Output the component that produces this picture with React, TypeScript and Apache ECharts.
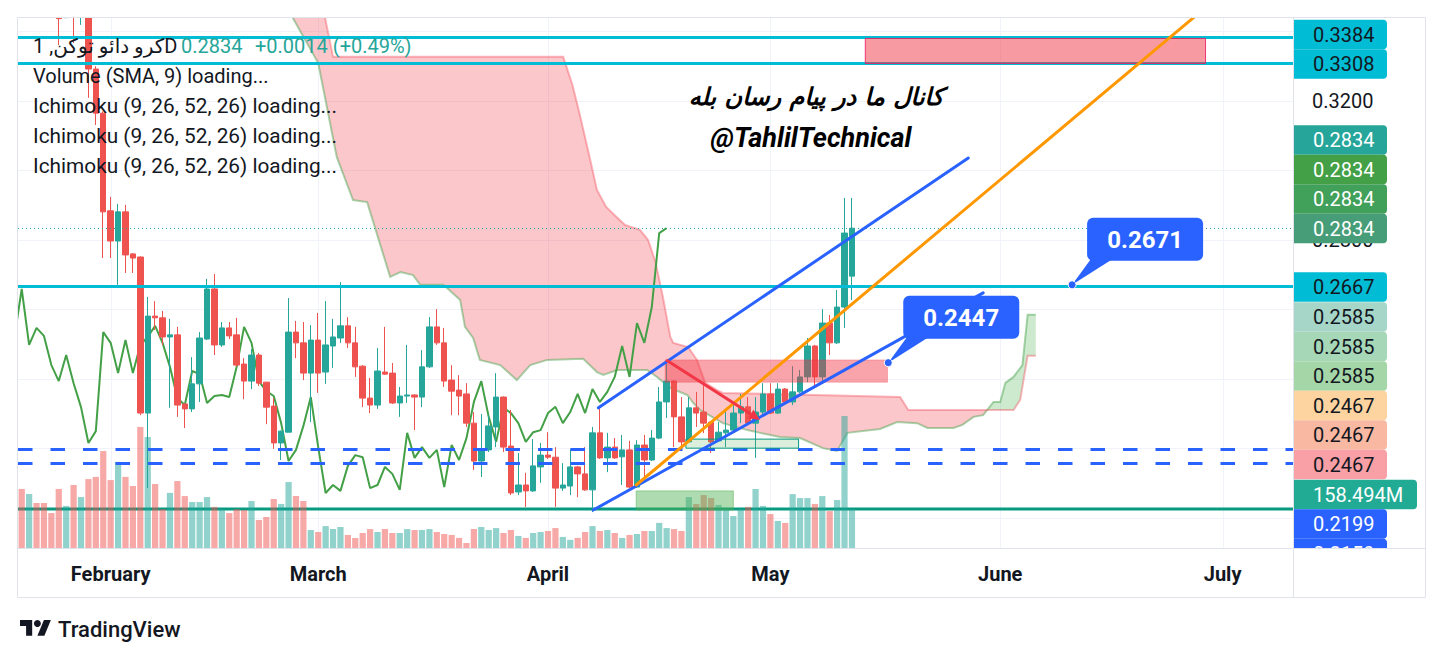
import React, { useEffect, useRef } from "react";
import * as echarts from "echarts";

// ---------- categories (daily, crypto: every day) ----------
const firstDay = Date.UTC(2025, 0, 20);
const dayCount = 172;
const categories: string[] = Array.from({ length: dayCount }, (_, k) =>
  new Date(firstDay + k * 86400000).toISOString().slice(0, 10)
);
const monthNames = ["January", "February", "March", "April", "May", "June", "July"];

// ---------- candles: [open, close, low, high] ----------
const candles: number[][] = [
  [0.372, 0.362, 0.358, 0.378], // 0
  [0.362, 0.368, 0.359, 0.371],
  [0.368, 0.358, 0.355, 0.37],
  [0.358, 0.352, 0.349, 0.361],
  [0.352, 0.347, 0.3455, 0.355],
  [0.347, 0.3437, 0.3361, 0.35],
  [0.344, 0.35, 0.3438, 0.353],
  [0.35, 0.346, 0.3367, 0.352],
  [0.346, 0.352, 0.3419, 0.355],
  [0.352, 0.3292, 0.3209, 0.354],
  [0.3292, 0.3165, 0.3131, 0.33], // 10
  [0.3165, 0.2881, 0.2748, 0.317],
  [0.2884, 0.2797, 0.2748, 0.2924],
  [0.2797, 0.2881, 0.2671, 0.2904],
  [0.2881, 0.2757, 0.2705, 0.2901],
  [0.276, 0.2748, 0.2705, 0.2762],
  [0.2751, 0.2302, 0.2296, 0.2753],
  [0.2302, 0.2581, 0.2086, 0.2636],
  [0.2581, 0.2576, 0.2541, 0.2624],
  [0.2576, 0.2521, 0.2498, 0.2596],
  [0.2521, 0.2527, 0.2317, 0.2573], // 20
  [0.2527, 0.2325, 0.2291, 0.255],
  [0.2328, 0.2314, 0.2259, 0.233],
  [0.2314, 0.2386, 0.2305, 0.2463],
  [0.2386, 0.2518, 0.2334, 0.2535],
  [0.2515, 0.2659, 0.2512, 0.2688],
  [0.2659, 0.2498, 0.2469, 0.2702],
  [0.2498, 0.2547, 0.2492, 0.2564],
  [0.2547, 0.2524, 0.2515, 0.2564],
  [0.2527, 0.244, 0.2436, 0.2576],
  [0.2443, 0.2394, 0.2342, 0.246], // 30
  [0.2394, 0.2469, 0.2371, 0.2486],
  [0.2469, 0.2388, 0.238, 0.2475],
  [0.2391, 0.2319, 0.227, 0.2391],
  [0.2322, 0.2216, 0.2199, 0.2345],
  [0.2216, 0.225, 0.2167, 0.2252],
  [0.2247, 0.2535, 0.2247, 0.2633],
  [0.2535, 0.2504, 0.246, 0.2567],
  [0.2504, 0.2417, 0.2397, 0.2564],
  [0.2417, 0.2512, 0.2276, 0.2555],
  [0.2512, 0.2417, 0.236, 0.259], // 40
  [0.242, 0.2498, 0.2386, 0.2624],
  [0.2495, 0.2521, 0.2432, 0.2573],
  [0.2518, 0.2553, 0.2504, 0.2679],
  [0.2553, 0.2504, 0.2489, 0.2578],
  [0.2504, 0.2435, 0.2406, 0.255],
  [0.2437, 0.2345, 0.2319, 0.244],
  [0.2345, 0.2325, 0.2302, 0.2403],
  [0.2325, 0.2423, 0.2314, 0.2489],
  [0.242, 0.2414, 0.2412, 0.255],
  [0.2417, 0.2331, 0.2328, 0.2446], // 50
  [0.2331, 0.2351, 0.2291, 0.2377],
  [0.2351, 0.2354, 0.2331, 0.2498],
  [0.2354, 0.2348, 0.2253, 0.2356],
  [0.2348, 0.2435, 0.2319, 0.2483],
  [0.2435, 0.255, 0.2432, 0.2578],
  [0.255, 0.2504, 0.2498, 0.2601],
  [0.2504, 0.2394, 0.2377, 0.2547],
  [0.2397, 0.2365, 0.2296, 0.244],
  [0.2368, 0.2351, 0.2296, 0.2411],
  [0.2357, 0.2273, 0.2262, 0.2388], // 60
  [0.2273, 0.2164, 0.2138, 0.2305],
  [0.2164, 0.2196, 0.2118, 0.2299],
  [0.2196, 0.2265, 0.219, 0.2296],
  [0.2262, 0.2348, 0.2204, 0.2417],
  [0.2348, 0.2204, 0.219, 0.235],
  [0.2207, 0.2072, 0.2066, 0.2311],
  [0.2075, 0.2095, 0.2066, 0.2187],
  [0.2095, 0.2078, 0.2032, 0.213],
  [0.2078, 0.215, 0.2075, 0.2227],
  [0.2147, 0.2181, 0.2101, 0.2216], // 70
  [0.2181, 0.2175, 0.217, 0.2247],
  [0.2175, 0.2086, 0.2032, 0.2204],
  [0.2086, 0.2095, 0.2078, 0.2158],
  [0.2092, 0.2147, 0.2066, 0.2199],
  [0.2147, 0.2127, 0.206, 0.215],
  [0.2127, 0.2081, 0.2078, 0.2204],
  [0.2081, 0.2245, 0.2017, 0.2262],
  [0.2245, 0.2173, 0.217, 0.2317],
  [0.2173, 0.2204, 0.2132, 0.2245],
  [0.2204, 0.2173, 0.217, 0.223], // 80
  [0.2176, 0.2196, 0.2095, 0.2239],
  [0.2196, 0.2089, 0.2086, 0.2222],
  [0.2089, 0.221, 0.2086, 0.2224],
  [0.221, 0.2167, 0.2104, 0.2239],
  [0.2167, 0.223, 0.2164, 0.2253],
  [0.223, 0.2334, 0.2227, 0.2377],
  [0.2334, 0.2394, 0.2288, 0.2455],
  [0.2394, 0.2291, 0.2204, 0.2397],
  [0.2291, 0.2219, 0.2201, 0.2348],
  [0.2219, 0.2317, 0.2219, 0.2348], // 90
  [0.2317, 0.2302, 0.2262, 0.2363],
  [0.2305, 0.2273, 0.2244, 0.2383],
  [0.2276, 0.2219, 0.2187, 0.2278],
  [0.2222, 0.2247, 0.2219, 0.2276],
  [0.2245, 0.2253, 0.2204, 0.2311],
  [0.2253, 0.2302, 0.225, 0.2325],
  [0.2302, 0.232, 0.2273, 0.2357],
  [0.232, 0.2273, 0.2273, 0.2348],
  [0.2273, 0.2305, 0.2173, 0.2348],
  [0.2305, 0.2357, 0.2291, 0.2388], // 100
  [0.2357, 0.2302, 0.2299, 0.2388],
  [0.2302, 0.2371, 0.2299, 0.2388],
  [0.2371, 0.2334, 0.2331, 0.2374],
  [0.2334, 0.2363, 0.2325, 0.2437],
  [0.2363, 0.2406, 0.236, 0.2426],
  [0.2406, 0.2495, 0.2391, 0.2518],
  [0.2495, 0.2406, 0.2377, 0.2498],
  [0.2406, 0.2561, 0.2388, 0.2601],
  [0.2561, 0.2504, 0.2469, 0.2584],
  [0.2504, 0.2607, 0.2501, 0.2656], // 110
  [0.2607, 0.282, 0.2547, 0.2921],
  [0.2696, 0.2834, 0.2627, 0.2921],
];

// ---------- volume (millions) ----------
const volumes: number[] = [
  240, 219, 183, 183, 142, 240, 171, 256, 207, 280,
  289, 394, 276, 350, 289, 252, 492, 451, 260, 158,
  224, 272, 211, 187, 187, 207, 167, 158, 142, 158,
  154, 191, 114, 126, 199, 179, 268, 211, 191, 73,
  65, 89, 77, 85, 53, 41, 61, 77, 65, 77,
  61, 61, 77, 73, 73, 77, 65, 57, 53, 41,
  20, 77, 85, 73, 81, 61, 73, 49, 41, 61,
  65, 69, 81, 45, 33, 41, 65, 89, 69, 73,
  61, 41, 53, 57, 69, 69, 102, 81, 77, 69,
  207, 179, 215, 203, 175, 158, 130, 158, 167, 240,
  171, 138, 110, 102, 219, 203, 203, 179, 211, 150,
  195, 536, 158.494,
];
const lastVolume = 158.494;
const lastPrice = 0.2834;
const priceChange = "+0.0014 (+0.49%)";

// ---------- horizontal levels ----------
const levelLines = [0.3384, 0.3308, 0.2667];
const dashedLevels = [0.2199, 0.2159];
// price-scale tick labels that stay visible (the rest sit under the tags)
const visibleTicks = ["0.3200", "0.2800"];

// ---------- Ichimoku cloud: [barIndex, price] ----------
const senkouA: number[][] = [
  [36.5, 0.3442], [40.0, 0.3309], [42.5, 0.3039], [44.7, 0.2915], [46.6, 0.2909],
  [49.7, 0.2694], [51.1, 0.2708], [52.8, 0.2699], [53.75, 0.2671], [56.9, 0.2671],
  [59.15, 0.2627], [59.8, 0.255], [60.9, 0.2518], [61.8, 0.2455], [64.55, 0.244],
  [66.8, 0.2397], [68.6, 0.244], [70.9, 0.2455], [75.75, 0.2458], [77.6, 0.242],
  [78.45, 0.2412], [80.35, 0.2426], [84.4, 0.2426], [85.7, 0.2406], [87.5, 0.2374],
  [89.8, 0.2354], [90.6, 0.2331], [91.5, 0.2311], [94.6, 0.2273], [97.9, 0.2253],
  [99.6, 0.2245], [102.3, 0.2233], [105.0, 0.223], [108.1, 0.2201], [110.0, 0.2193],
  [111.4, 0.2245], [115.8, 0.2256], [118.1, 0.2276], [120.8, 0.2273], [122.2, 0.2259],
  [125.7, 0.2259], [126.9, 0.2268], [128.4, 0.2291], [129.7, 0.2296], [131.1, 0.2334],
  [132.0, 0.2334], [132.7, 0.2389], [133.8, 0.2406], [135.0, 0.244], [135.7, 0.2585],
  [136.8, 0.2585],
];
const senkouB: number[][] = [
  [36.5, 0.3442], [40.9, 0.3442], [42.0, 0.3327], [73.05, 0.3327], [74.3, 0.3246],
  [75.3, 0.316], [76.7, 0.303], [77.6, 0.2944], [78.85, 0.2895], [80.1, 0.2869],
  [81.4, 0.2843], [83.4, 0.2829], [84.5, 0.28], [85.5, 0.2737], [86.5, 0.2636],
  [87.5, 0.2521], [87.9, 0.2504], [89.9, 0.2492], [91.1, 0.2455], [92.2, 0.2389],
  [93.8, 0.2368], [94.6, 0.236], [118.5, 0.2348], [119.6, 0.2311], [133.8, 0.2311],
  [134.7, 0.234], [135.7, 0.2467], [136.8, 0.2467],
];
const cloudCross = [130.25, 0.2311];

// ---------- drawings ----------
const trendLines: number[][] = [
  [77.8, 0.2317, 127.7, 0.3036],
  [77.1, 0.2023, 129.7, 0.2648],
  [82.9, 0.2095, 158.2, 0.3442],
];
const trendColors = ["#2962ff", "#2962ff", "#ff9800"];
const arrowLine = [86.95, 0.2455, 99.6, 0.2282];
const zones: number[][] = [
  [113.8, 0.338, 159.7, 0.3308],
  [86.8, 0.2455, 116.8, 0.2391],
  [82.9, 0.2078, 96.0, 0.2023],
  [89.6, 0.2227, 104.8, 0.2201],
];
const zoneFill = ["rgba(242,54,69,0.5)", "rgba(242,54,69,0.45)", "rgba(76,175,80,0.45)", "rgba(76,175,80,0.2)"];
const zoneStroke = ["rgba(233,30,99,0.85)", "rgba(242,54,69,0.3)", "rgba(76,175,80,0.5)", "#089981"];
const callouts: number[][] = [
  [141.7, 0.2671],
  [116.9, 0.2447],
];

// ---------- price-scale tags ----------
const priceTags = [
  "0.3384", "0.3308", "0.2834", "0.2834", "0.2834", "0.2834", "0.2667",
  "0.2585", "0.2585", "0.2585", "0.2467", "0.2467", "0.2467", "158.494M", "0.2199", "0.2159",
];
const tagBg = [
  "#00bcd4", "#00bcd4", "#26a69a", "#43a047", "#41a05a", "#469d78", "#00bcd4",
  "#a5d6c8", "#a6d8b8", "#a5d6a7", "#fdd4a0", "#f9b8a1", "#f8a0a5", "#22ab94", "#2962ff", "#2962ff",
];
const tagFg = [
  "#131722", "#131722", "#ffffff", "#ffffff", "#ffffff", "#ffffff", "#131722",
  "#131722", "#131722", "#131722", "#131722", "#131722", "#131722", "#ffffff", "#ffffff", "#ffffff",
];
const tagY = [34.5, 64, 140, 169.5, 199, 228.5, 287, 317, 346.5, 376, 405.5, 435, 464.5, 494.5, 524, 553.5];

const legendLines = [
  "Volume (SMA, 9) loading...",
  "Ichimoku (9, 26, 52, 26) loading...",
  "Ichimoku (9, 26, 52, 26) loading...",
  "Ichimoku (9, 26, 52, 26) loading...",
];
const symbolTitle = "1 ,کرو دائو توکنD";
const noteFa = "کانال ما در پیام رسان بله";
const noteEn = "@TahlilTechnical";

const UP = "#26a69a";
const DOWN = "#ef5350";
const FONT = "Roboto, 'DejaVu Sans', sans-serif";

function buildOption() {
  const closes = candles.map((c) => c[1]);
  const lagging = closes.map((v, i) => [i - 25, v]).filter((p) => p[0] >= -1);
  const monthStarts = categories
    .map((d, i) => (d.slice(8) === "01" ? i : -1))
    .filter((i) => i >= 0)
    .map((i) => [i, 0.28]);

  const volData = volumes.map((v, i) => ({
    value: v,
    itemStyle: {
      color: candles[i][1] >= candles[i][0] ? "rgba(38,166,154,0.5)" : "rgba(239,83,80,0.5)",
    },
  }));

  const txt = (text: string, x: number, y: number, fill: string, font: string, align = "left", z = 103) => ({
    type: "text",
    x,
    y,
    style: { text, fill, font, textAlign: align, textVerticalAlign: "middle", align, verticalAlign: "middle" },
    z,
    silent: true,
  });

  const graphics: any[] = [];
  // white strip above the pane (price overflow of the earliest candles)
  graphics.push({ type: "rect", shape: { x: 0, y: 0, width: 1444, height: 17 }, style: { fill: "#ffffff" }, z: 99, silent: true });
  // price-scale tags
  priceTags.forEach((t, k) => {
    const w = t.endsWith("M") ? 123 : 93;
    graphics.push({
      type: "rect",
      shape: { x: 1294, y: tagY[k] - 14.75, width: w, height: 29.5, r: [0, 4, 4, 0] },
      style: { fill: tagBg[k] },
      z: 100,
      silent: true,
    });
    graphics.push(txt(t, 1313, tagY[k], tagFg[k], `20px ${FONT}`, "left", 100));
  });
  // cover overflow below the price pane on the scale
  graphics.push({ type: "rect", shape: { x: 1294, y: 549, width: 131, height: 47.5 }, style: { fill: "#ffffff" }, z: 101, silent: true });
  // frame
  graphics.push({ type: "rect", shape: { x: 17.5, y: 17.5, width: 1408, height: 580 }, style: { fill: "none", stroke: "#e0e3eb", lineWidth: 1 }, z: 102, silent: true });
  graphics.push({ type: "line", shape: { x1: 17, y1: 548.5, x2: 1425, y2: 548.5 }, style: { stroke: "#e0e3eb", lineWidth: 1 }, z: 102, silent: true });
  graphics.push({ type: "line", shape: { x1: 1293.5, y1: 17, x2: 1293.5, y2: 597 }, style: { stroke: "#e0e3eb", lineWidth: 1 }, z: 102, silent: true });

  // legend
  graphics.push(txt(symbolTitle, 33, 46, "#131722", `20px ${FONT}`));
  graphics.push(txt(lastPrice.toFixed(4), 181, 46, UP, `20px ${FONT}`));
  graphics.push(txt(priceChange, 255, 46, UP, `20px ${FONT}`));
  legendLines.forEach((t, k) => {
    const f = k === 0 ? `20px ${FONT}` : `20.8px ${FONT}`;
    graphics.push(txt(t, 33, 76 + k * 30, "#131722", f));
  });
  // notes drawn on the chart
  graphics.push(txt(noteFa, 816, 97, "#000000", "italic bold 24px 'DejaVu Sans', sans-serif", "center"));
  graphics.push(txt(noteEn, 811, 138, "#000000", `italic bold 27px ${FONT}`, "center"));
  // TradingView logo + name
  graphics.push({
    type: "group", x: 20, y: 616.5, scaleX: 0.87, scaleY: 0.87, z: 103, silent: true,
    children: [
      { type: "polygon", shape: { points: [[0, 4], [14, 4], [14, 22], [7, 22], [7, 11], [0, 11]] }, style: { fill: "#131722" } },
      { type: "polygon", shape: { points: [[20, 22], [27.5, 4], [35.5, 4], [28, 22]] }, style: { fill: "#131722" } },
      { type: "circle", shape: { cx: 20, cy: 8, r: 4 }, style: { fill: "#131722" } },
    ],
  });
  graphics.push(txt("TradingView", 58, 629, "#131722", `500 22px ${FONT}`));

  return {
    animation: false,
    backgroundColor: "#ffffff",
    grid: { left: 18, right: 151, top: 17, bottom: 111, containLabel: false },
    xAxis: [
      {
        type: "category",
        data: categories,
        boundaryGap: true,
        axisLine: { show: false },
        axisTick: { show: false },
        splitLine: { show: false },
        axisLabel: {
          interval: (_i: number, v: string) => v.slice(8) === "01",
          formatter: (v: string) => monthNames[parseInt(v.slice(5, 7), 10) - 1],
          color: "#131722",
          fontSize: 20,
          fontWeight: "bold",
          fontFamily: FONT,
          margin: 16,
        },
      },
      { type: "value", min: -0.5, max: dayCount - 0.5, show: false },
    ],
    yAxis: [
      {
        type: "value",
        position: "right",
        min: 0.19137,
        max: 0.34417,
        splitNumber: 7,
        minInterval: 0.02,
        maxInterval: 0.02,
        axisLine: { show: false },
        axisTick: { show: false },
        splitLine: { show: true, lineStyle: { color: "#f0f3fa", width: 1 } },
        axisLabel: {
          formatter: (v: number) => (visibleTicks.includes(v.toFixed(4)) ? v.toFixed(4) : ""),
          color: "#131722",
          fontSize: 20,
          fontFamily: FONT,
          margin: 19,
          showMinLabel: false,
          showMaxLabel: false,
        },
      },
      { type: "value", min: 0, max: (lastVolume * 531) / 39, show: false },
    ],
    series: [
      {
        type: "custom",
        name: "monthGrid",
        xAxisIndex: 1,
        yAxisIndex: 0,
        silent: true,
        z: 0,
        data: monthStarts,
        renderItem: (params: any, api: any) => {
          const cs = params.coordSys;
          const p = api.coord([api.value(0), api.value(1)]);
          return {
            type: "line",
            shape: { x1: Math.round(p[0]) + 0.5, y1: cs.y, x2: Math.round(p[0]) + 0.5, y2: cs.y + cs.height },
            style: { stroke: "#f0f3fa", lineWidth: 1 },
          };
        },
      },
      {
        type: "custom",
        name: "cloud",
        xAxisIndex: 1,
        yAxisIndex: 0,
        silent: true,
        clip: true,
        z: 1,
        data: [[0, 0.28]],
        renderItem: (_params: any, api: any) => {
          const pt = (p: number[]) => api.coord(p);
          const cx = cloudCross[0];
          const redTop = senkouB.filter((p) => p[0] < cx);
          const redBot = senkouA.filter((p) => p[0] < cx);
          const redPoly = [...redTop, cloudCross, ...redBot.slice().reverse()].map(pt);
          const grTop = senkouA.filter((p) => p[0] > cx);
          const grBot = senkouB.filter((p) => p[0] > cx);
          const grPoly = [cloudCross, ...grTop, ...grBot.slice().reverse()].map(pt);
          return {
            type: "group",
            children: [
              { type: "polygon", shape: { points: redPoly }, style: { fill: "rgba(242,54,69,0.28)" } },
              { type: "polygon", shape: { points: grPoly }, style: { fill: "rgba(76,175,80,0.28)" } },
              { type: "polyline", shape: { points: senkouA.map(pt) }, style: { stroke: "rgba(67,160,71,0.45)", lineWidth: 2, fill: "none" } },
              { type: "polyline", shape: { points: senkouB.slice(1).map(pt) }, style: { stroke: "rgba(242,54,69,0.35)", lineWidth: 2, fill: "none" } },
            ],
          };
        },
      },
      {
        type: "custom",
        name: "volumeLevel",
        xAxisIndex: 1,
        yAxisIndex: 1,
        silent: true,
        z: 1,
        data: [[0, lastVolume]],
        renderItem: (params: any, api: any) => {
          const cs = params.coordSys;
          const p = api.coord([0, api.value(1)]);
          return {
            type: "line",
            shape: { x1: cs.x, y1: p[1], x2: cs.x + cs.width, y2: p[1] },
            style: { stroke: "#089981", lineWidth: 3 },
          };
        },
      },
      {
        type: "bar",
        name: "Volume",
        xAxisIndex: 0,
        yAxisIndex: 1,
        barWidth: "84%",
        silent: true,
        z: 2,
        data: volData,
      },
      {
        type: "line",
        name: "Lagging",
        xAxisIndex: 1,
        yAxisIndex: 0,
        data: lagging,
        showSymbol: false,
        symbol: "none",
        silent: true,
        z: 3,
        lineStyle: { color: "#43a047", width: 2 },
      },
      {
        type: "candlestick",
        name: "Price",
        xAxisIndex: 0,
        yAxisIndex: 0,
        barWidth: "80%",
        silent: true,
        clip: true,
        z: 4,
        data: candles,
        itemStyle: { color: UP, color0: DOWN, borderColor: UP, borderColor0: DOWN, borderWidth: 1 },
        markLine: {
          symbol: ["none", "none"],
          silent: true,
          animation: false,
          precision: 4,
          label: { show: false },
          emphasis: { disabled: true },
          data: [
            ...levelLines.map((v) => ({ yAxis: v, lineStyle: { color: "#00bcd4", width: 3, type: "solid" } })),
            ...dashedLevels.map((v) => ({ yAxis: v, lineStyle: { color: "#2962ff", width: 3, type: [14.5, 18] } })),
            { yAxis: lastPrice, lineStyle: { color: UP, width: 1, type: [1, 3] } },
          ],
        },
      },
      {
        type: "custom",
        name: "zones",
        xAxisIndex: 1,
        yAxisIndex: 0,
        silent: true,
        clip: true,
        z: 5,
        data: zones,
        renderItem: (params: any, api: any) => {
          const i = params.dataIndex;
          const a = api.coord([api.value(0), api.value(1)]);
          const b = api.coord([api.value(2), api.value(3)]);
          return {
            type: "rect",
            shape: { x: Math.min(a[0], b[0]), y: Math.min(a[1], b[1]), width: Math.abs(b[0] - a[0]), height: Math.abs(b[1] - a[1]) },
            style: { fill: zoneFill[i], stroke: zoneStroke[i], lineWidth: 1 },
          };
        },
      },
      {
        type: "custom",
        name: "trendLines",
        xAxisIndex: 1,
        yAxisIndex: 0,
        silent: true,
        clip: true,
        z: 6,
        data: trendLines,
        renderItem: (params: any, api: any) => {
          const i = params.dataIndex;
          const a = api.coord([api.value(0), api.value(1)]);
          const b = api.coord([api.value(2), api.value(3)]);
          return {
            type: "line",
            shape: { x1: a[0], y1: a[1], x2: b[0], y2: b[1] },
            style: { stroke: trendColors[i], lineWidth: 3, lineCap: "round" },
          };
        },
      },
      {
        type: "custom",
        name: "arrow",
        xAxisIndex: 1,
        yAxisIndex: 0,
        silent: true,
        clip: true,
        z: 6,
        data: [arrowLine],
        renderItem: (_params: any, api: any) => {
          const a = api.coord([api.value(0), api.value(1)]);
          const b = api.coord([api.value(2), api.value(3)]);
          const ang = Math.atan2(b[1] - a[1], b[0] - a[0]);
          const L = 11, W = 5;
          const bx = b[0] - L * Math.cos(ang), by = b[1] - L * Math.sin(ang);
          const px = -Math.sin(ang) * W, py = Math.cos(ang) * W;
          return {
            type: "group",
            children: [
              { type: "line", shape: { x1: a[0], y1: a[1], x2: bx, y2: by }, style: { stroke: "#f23645", lineWidth: 3 } },
              { type: "polygon", shape: { points: [[b[0], b[1]], [bx + px, by + py], [bx - px, by - py]] }, style: { fill: "#f23645" } },
            ],
          };
        },
      },
      {
        type: "custom",
        name: "callouts",
        xAxisIndex: 1,
        yAxisIndex: 0,
        silent: true,
        z: 7,
        data: callouts,
        renderItem: (_params: any, api: any) => {
          const v = api.value(1);
          const p = api.coord([api.value(0), v]);
          const bx = p[0] + 15, by = p[1] - 67, bw = 116, bh = 43;
          return {
            type: "group",
            children: [
              { type: "polygon", shape: { points: [[p[0], p[1]], [bx + 4, by + bh - 2], [bx + 26, by + bh - 2]] }, style: { fill: "#2962ff" } },
              { type: "rect", shape: { x: bx, y: by, width: bw, height: bh, r: 6 }, style: { fill: "#2962ff" } },
              {
                type: "text",
                x: bx + bw / 2,
                y: by + bh / 2 + 1,
                style: { text: v.toFixed(4), fill: "#ffffff", font: `bold 24px ${FONT}`, align: "center", verticalAlign: "middle", textAlign: "center", textVerticalAlign: "middle" },
              },
              { type: "circle", shape: { cx: p[0], cy: p[1], r: 4 }, style: { fill: "#2962ff", stroke: "#ffffff", lineWidth: 1 } },
            ],
          };
        },
      },
    ],
    graphic: graphics,
  };
}

export default function App() {
  const ref = useRef<HTMLDivElement>(null);
  useEffect(() => {
    document.body.style.margin = "0";
    const chart = echarts.init(ref.current as HTMLDivElement, null, { renderer: "svg" });
    chart.setOption(buildOption() as any);
    return () => chart.dispose();
  }, []);
  return <div ref={ref} style={{ width: 1444, height: 659, background: "#ffffff" }} />;
}
